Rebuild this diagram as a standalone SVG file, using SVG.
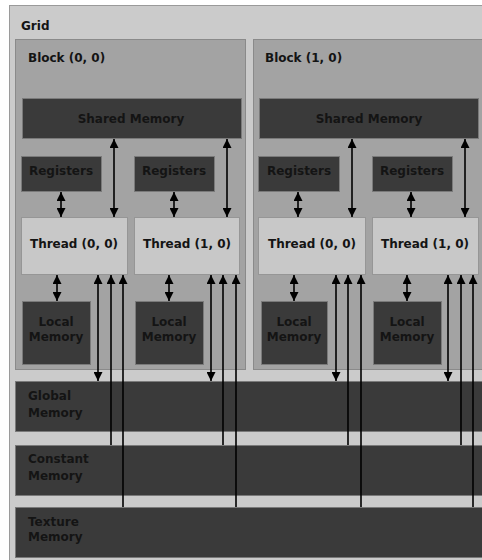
<svg xmlns="http://www.w3.org/2000/svg" width="482" height="560" viewBox="0 0 482 560">
  <style>
    .grid { fill: #cbcbcb; stroke: #9a9a9a; stroke-width: 1; }
    .block { fill: #a3a3a3; stroke: #8a8a8a; stroke-width: 1; }
    .dark { fill: #3a3a3a; stroke: #7a7a7a; stroke-width: 1; }
    .light { fill: #c8c8c8; stroke: #969696; stroke-width: 1; }
    text { font-family: "DejaVu Sans", Verdana, sans-serif; font-weight: bold; font-size: 12px; fill: #141414; }
    .c { text-anchor: middle; }
    .wire { stroke: #000; stroke-width: 1.6; fill: none; }
  </style>
  <defs>
    <marker id="head" markerUnits="userSpaceOnUse" markerWidth="9" markerHeight="9" refX="9" refY="4.5" orient="auto-start-reverse">
      <path d="M0,0 L9,4.5 L0,9 z" fill="#000"/>
    </marker>
  </defs>

  <rect width="482" height="560" fill="#ffffff"/>

  <g id="grid">
    <rect class="grid" x="9.5" y="5.5" width="490" height="570"/>
    <text x="21" y="30">Grid</text>
  </g>

  <g id="block-0-0">
    <rect class="block" x="15.5" y="39.5" width="230" height="330"/>
    <text x="28" y="62">Block (0, 0)</text>
  </g>
  <g id="block-1-0">
    <rect class="block" x="253.5" y="39.5" width="240" height="330"/>
    <text x="265" y="62">Block (1, 0)</text>
  </g>

  <!-- Block (0, 0) contents -->
  <g id="shared-0">
    <rect class="dark" x="22.5" y="98.5" width="219" height="40"/>
    <text class="c" x="131" y="123">Shared Memory</text>
  </g>
  <g id="registers-0-0">
    <rect class="dark" x="21.5" y="156.5" width="80" height="35"/>
    <text class="c" x="61" y="175">Registers</text>
  </g>
  <g id="registers-0-1">
    <rect class="dark" x="134.5" y="156.5" width="80" height="35"/>
    <text class="c" x="174" y="175">Registers</text>
  </g>
  <g id="thread-0-0">
    <rect class="light" x="21.5" y="217.5" width="106" height="57"/>
    <text class="c" x="74" y="248">Thread (0, 0)</text>
  </g>
  <g id="thread-0-1">
    <rect class="light" x="134.5" y="217.5" width="105" height="57"/>
    <text class="c" x="187" y="248">Thread (1, 0)</text>
  </g>
  <g id="local-0-0">
    <rect class="dark" x="22.5" y="301.5" width="68" height="63"/>
    <text class="c" x="56" y="326">Local</text>
    <text class="c" x="56" y="341">Memory</text>
  </g>
  <g id="local-0-1">
    <rect class="dark" x="135.5" y="301.5" width="68" height="63"/>
    <text class="c" x="169" y="326">Local</text>
    <text class="c" x="169" y="341">Memory</text>
  </g>

  <!-- Block (1, 0) contents -->
  <g id="shared-1">
    <rect class="dark" x="259.5" y="98.5" width="219" height="40"/>
    <text class="c" x="369" y="123">Shared Memory</text>
  </g>
  <g id="registers-1-0">
    <rect class="dark" x="258.5" y="156.5" width="81" height="35"/>
    <text class="c" x="299" y="175">Registers</text>
  </g>
  <g id="registers-1-1">
    <rect class="dark" x="372.5" y="156.5" width="80" height="35"/>
    <text class="c" x="412" y="175">Registers</text>
  </g>
  <g id="thread-1-0">
    <rect class="light" x="258.5" y="217.5" width="107" height="57"/>
    <text class="c" x="312" y="248">Thread (0, 0)</text>
  </g>
  <g id="thread-1-1">
    <rect class="light" x="372.5" y="217.5" width="106" height="57"/>
    <text class="c" x="425" y="248">Thread (1, 0)</text>
  </g>
  <g id="local-1-0">
    <rect class="dark" x="261.5" y="301.5" width="66" height="63"/>
    <text class="c" x="294" y="326">Local</text>
    <text class="c" x="294" y="341">Memory</text>
  </g>
  <g id="local-1-1">
    <rect class="dark" x="373.5" y="301.5" width="68" height="63"/>
    <text class="c" x="407" y="326">Local</text>
    <text class="c" x="407" y="341">Memory</text>
  </g>

  <!-- Device-wide memories -->
  <g id="global-memory">
    <rect class="dark" x="15.5" y="381.5" width="480" height="50"/>
    <text x="28" y="400">Global</text>
    <text x="28" y="417">Memory</text>
  </g>
  <g id="constant-memory">
    <rect class="dark" x="15.5" y="445.5" width="480" height="50"/>
    <text x="28" y="463">Constant</text>
    <text x="28" y="480">Memory</text>
  </g>
  <g id="texture-memory">
    <rect class="dark" x="15.5" y="507.5" width="480" height="50"/>
    <text x="28" y="526">Texture</text>
    <text x="28" y="541">Memory</text>
  </g>

  <g id="connectors">
    <!-- Block (0, 0) -->
    <line class="wire" x1="114" y1="139" x2="114" y2="217" marker-start="url(#head)" marker-end="url(#head)"/>
    <line class="wire" x1="227" y1="139" x2="227" y2="217" marker-start="url(#head)" marker-end="url(#head)"/>
    <line class="wire" x1="61" y1="192" x2="61" y2="217" marker-start="url(#head)" marker-end="url(#head)"/>
    <line class="wire" x1="174" y1="192" x2="174" y2="217" marker-start="url(#head)" marker-end="url(#head)"/>
    <line class="wire" x1="57" y1="275" x2="57" y2="301" marker-start="url(#head)" marker-end="url(#head)"/>
    <line class="wire" x1="169" y1="275" x2="169" y2="301" marker-start="url(#head)" marker-end="url(#head)"/>
    <line class="wire" x1="98" y1="275" x2="98" y2="381" marker-start="url(#head)" marker-end="url(#head)"/>
    <line class="wire" x1="111" y1="275" x2="111" y2="445" marker-start="url(#head)"/>
    <line class="wire" x1="123" y1="275" x2="123" y2="507" marker-start="url(#head)"/>
    <line class="wire" x1="211" y1="275" x2="211" y2="381" marker-start="url(#head)" marker-end="url(#head)"/>
    <line class="wire" x1="223" y1="275" x2="223" y2="445" marker-start="url(#head)"/>
    <line class="wire" x1="236" y1="275" x2="236" y2="507" marker-start="url(#head)"/>
    <!-- Block (1, 0) -->
    <line class="wire" x1="352" y1="139" x2="352" y2="217" marker-start="url(#head)" marker-end="url(#head)"/>
    <line class="wire" x1="465" y1="139" x2="465" y2="217" marker-start="url(#head)" marker-end="url(#head)"/>
    <line class="wire" x1="298" y1="192" x2="298" y2="217" marker-start="url(#head)" marker-end="url(#head)"/>
    <line class="wire" x1="411" y1="192" x2="411" y2="217" marker-start="url(#head)" marker-end="url(#head)"/>
    <line class="wire" x1="294" y1="275" x2="294" y2="301" marker-start="url(#head)" marker-end="url(#head)"/>
    <line class="wire" x1="407" y1="275" x2="407" y2="301" marker-start="url(#head)" marker-end="url(#head)"/>
    <line class="wire" x1="336" y1="275" x2="336" y2="381" marker-start="url(#head)" marker-end="url(#head)"/>
    <line class="wire" x1="348" y1="275" x2="348" y2="445" marker-start="url(#head)"/>
    <line class="wire" x1="361" y1="275" x2="361" y2="507" marker-start="url(#head)"/>
    <line class="wire" x1="448" y1="275" x2="448" y2="381" marker-start="url(#head)" marker-end="url(#head)"/>
    <line class="wire" x1="461" y1="275" x2="461" y2="445" marker-start="url(#head)"/>
    <line class="wire" x1="473" y1="275" x2="473" y2="507" marker-start="url(#head)"/>
  </g>
</svg>
